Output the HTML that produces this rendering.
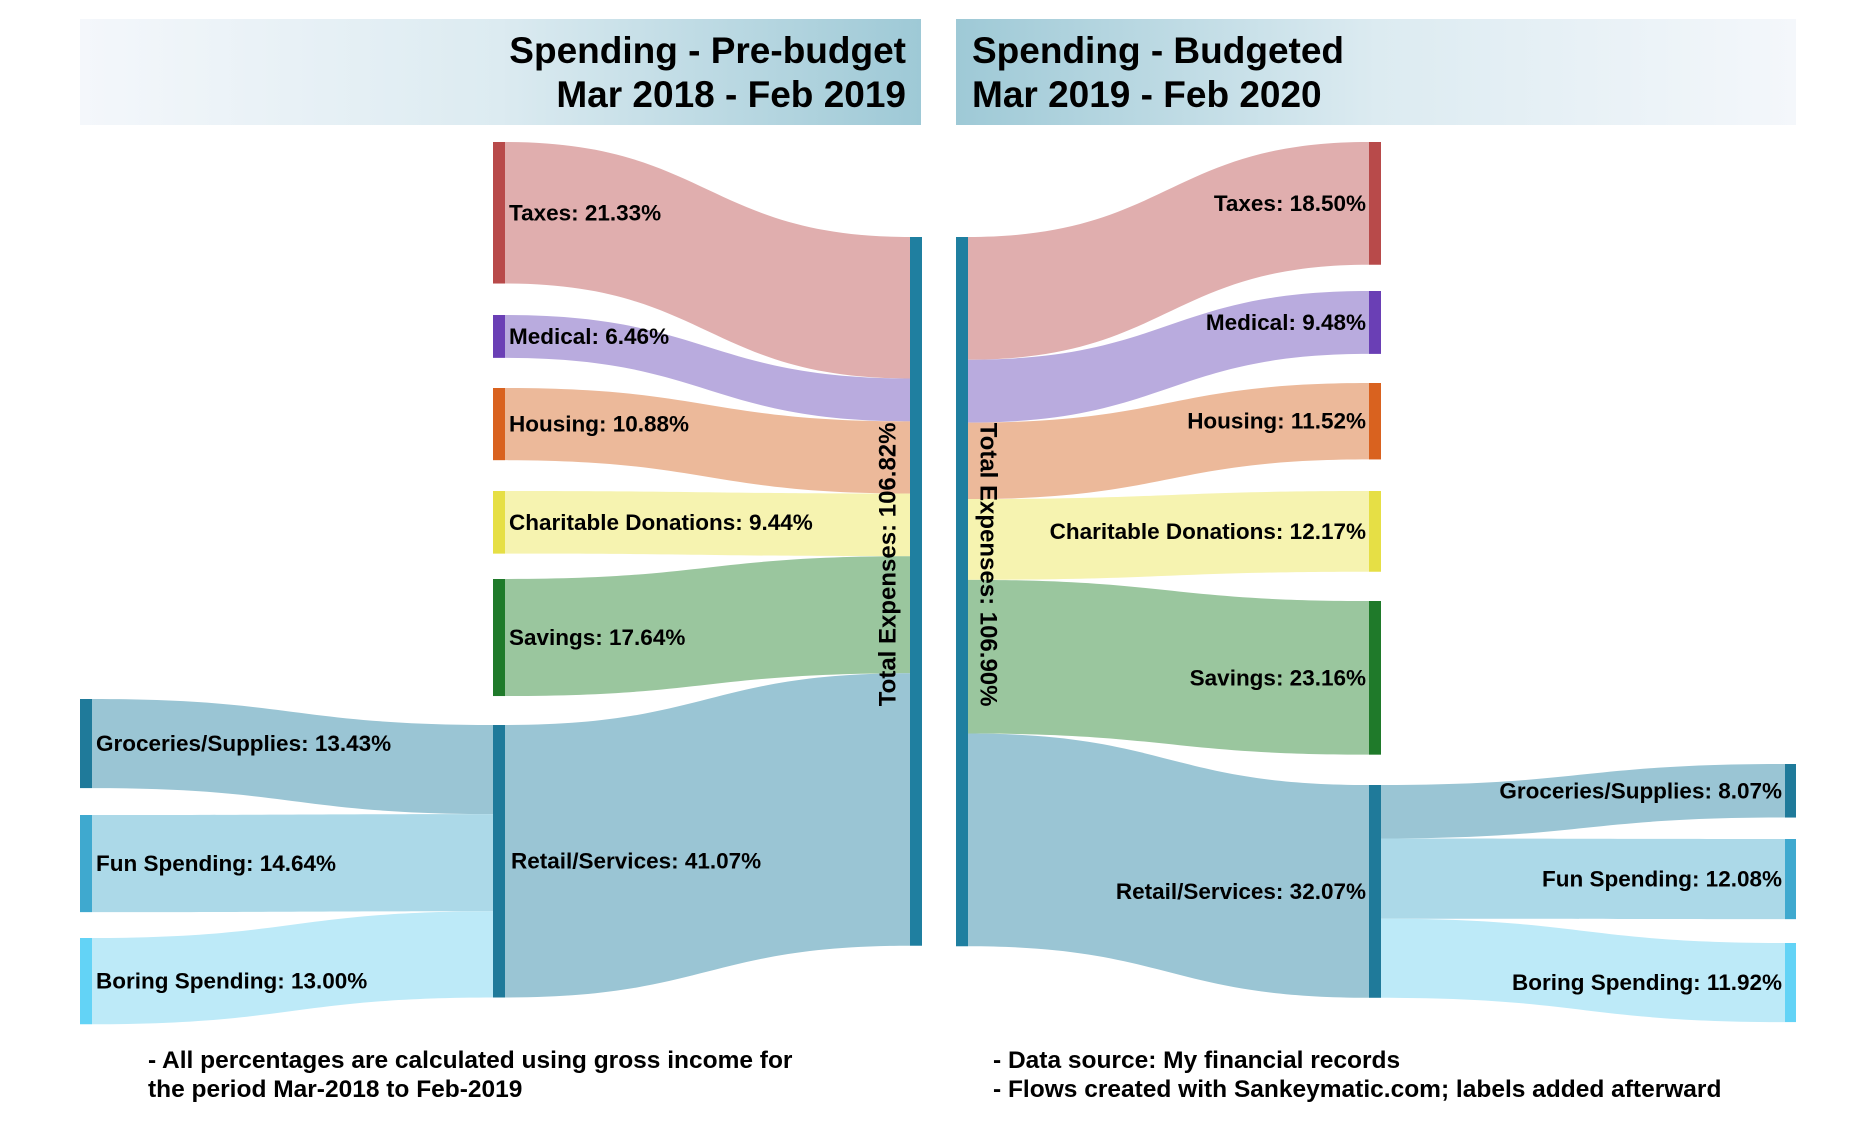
<!DOCTYPE html>
<html><head><meta charset="utf-8">
<style>
html,body{margin:0;padding:0;background:#fff;}
svg{display:block;font-family:"Liberation Sans",Arial,sans-serif;font-weight:bold;}
</style></head>
<body>
<svg id="chart" width="1875" height="1125" viewBox="0 0 1875 1125" xmlns="http://www.w3.org/2000/svg">
<defs>
<linearGradient id="gL" x1="0" x2="1" y1="0" y2="0"><stop offset="0" stop-color="#f4f7fb"/><stop offset="0.5" stop-color="#dcebf1"/><stop offset="1" stop-color="#9ec9d6"/></linearGradient>
<linearGradient id="gR" x1="0" x2="1" y1="0" y2="0"><stop offset="0" stop-color="#9ec9d6"/><stop offset="0.5" stop-color="#dcebf1"/><stop offset="1" stop-color="#f4f7fb"/></linearGradient>
</defs>
<rect x="80" y="19" width="841" height="106" fill="url(#gL)"/>
<rect x="956" y="19" width="840" height="106" fill="url(#gR)"/>
<text x="906" y="63" font-size="37" text-anchor="end" fill="#000">Spending - Pre-budget</text>
<text x="906" y="107" font-size="37" text-anchor="end" fill="#000">Mar 2018 - Feb 2019</text>
<text x="972" y="63" font-size="37" fill="#000">Spending - Budgeted</text>
<text x="972" y="107" font-size="37" fill="#000">Mar 2019 - Feb 2020</text>
<g id="flows"></g>
<g id="nodes"></g>
<g id="labels"></g>
<text x="148" y="1068" font-size="24.5">- All percentages are calculated using gross income for</text>
<text x="148" y="1097" font-size="24.5">the period Mar-2018 to Feb-2019</text>
<text x="993" y="1068" font-size="24.5">- Data source: My financial records</text>
<text x="993" y="1097" font-size="24.5">- Flows created with Sankeymatic.com; labels added afterward</text>
</svg>
<script>
// Data
const expenseNames = ["Taxes","Medical","Housing","Charitable Donations","Savings","Retail/Services"];
const preValues = [21.33, 6.46, 10.88, 9.44, 17.64, 41.07];
const budValues = [18.50, 9.48, 11.52, 12.17, 23.16, 32.07];
const retailNames = ["Groceries/Supplies","Fun Spending","Boring Spending"];
const preRetail = [13.43, 14.64, 13.00];
const budRetail = [8.07, 12.08, 11.92];
const preTotal = 106.82;
const budTotal = 106.90;

// Styles / layout
const nodeCol = ["#b84a4a","#6a3fb5","#d9621f","#e6df45","#1f7a2a","#1f7a9a"];
const flowCol = ["#e0aeae","#b9abde","#ecb99a","#f6f3b0","#9ac69e","#9ac5d4"];
const subNodeCol = ["#1f7a9a","#3fa9cf","#63d3f6"];
const subFlowCol = ["#9ac5d4","#acd9e8","#bdeaf8"];
const K = 709/106.86;
const totalTop = 237;
const preTops = [142,315,388,491,579,725];
const budTops = [142,291,383,491,601,785];
const preSubTops = [699,815,938];
const budSubTops = [764,839,943];
const NS = "http://www.w3.org/2000/svg";
const gF = document.getElementById('flows'), gN = document.getElementById('nodes'), gT = document.getElementById('labels');

function band(x0,a0,b0,x1,a1,b1){
  const xm=(x0+x1)/2;
  return `M${x0},${a0} C${xm},${a0} ${xm},${a1} ${x1},${a1} L${x1},${b1} C${xm},${b1} ${xm},${b0} ${x0},${b0} Z`;
}
function flow(d,fill,name){
  const p=document.createElementNS(NS,'path');
  p.setAttribute('d',d);p.setAttribute('fill',fill);
  
  
  gF.appendChild(p);
}
function node(x,y,w,h,fill,name){
  const r=document.createElementNS(NS,'rect');
  r.setAttribute('x',x);r.setAttribute('y',y);r.setAttribute('width',w);r.setAttribute('height',h);r.setAttribute('fill',fill);
  
  
  gN.appendChild(r);
}
function label(x,y,txt,anchor,name,rot,fs){
  const t=document.createElementNS(NS,'text');
  t.setAttribute('x',x);t.setAttribute('y',y);t.setAttribute('font-size',fs||'22.5');
  t.setAttribute('text-anchor',anchor);t.setAttribute('dominant-baseline','central');
  if(rot) t.setAttribute('transform',`rotate(${rot} ${x} ${y})`);
  t.textContent=txt;
  
  
  gT.appendChild(t);
}
function slug(s){return s.toLowerCase().replace(/[^a-z]+/g,'-').replace(/-$/,'');}

// LEFT (pre-budget)
(function(){
  const tx=910, nx=493, nw=12;
  node(tx,totalTop,12,preTotal*K,"#1f7fa0","pre-total-node");
  label(888,totalTop+preTotal*K/2-27,"Total Expenses: "+preTotal.toFixed(2)+"%","middle","pre-total-label",-90,"24");
  let cy=totalTop;
  preValues.forEach((v,i)=>{
    const h=v*K, y=preTops[i];
    flow(band(nx+nw,y,y+h,tx,cy,cy+h),flowCol[i],"pre-flow-"+slug(expenseNames[i]));
    node(nx,y,nw,h,nodeCol[i],"pre-node-"+slug(expenseNames[i]));
    label(nx+nw+4+(i==5?2:0),y+h/2,expenseNames[i]+": "+v.toFixed(2)+"%","start","pre-label-"+slug(expenseNames[i]));
    cy+=h;
  });
  const rx=nx+2; let ry=preTops[5];
  preRetail.forEach((v,i)=>{
    const h=v*K, y=preSubTops[i];
    flow(band(92,y,y+h,rx,ry,ry+h),subFlowCol[i],"pre-flow-"+slug(retailNames[i]));
    node(80,y,12,h,subNodeCol[i],"pre-node-"+slug(retailNames[i]));
    label(96,y+h/2,retailNames[i]+": "+v.toFixed(2)+"%","start","pre-label-"+slug(retailNames[i]));
    ry+=h;
  });
})();

// RIGHT (budgeted)
(function(){
  const tx=956, nx=1369, nw=12;
  node(tx,totalTop,12,budTotal*K,"#1f7fa0","bud-total-node");
  label(988,totalTop+budTotal*K/2-27,"Total Expenses: "+budTotal.toFixed(2)+"%","middle","bud-total-label",90,"24");
  let cy=totalTop;
  budValues.forEach((v,i)=>{
    const h=v*K, y=budTops[i];
    flow(band(tx+12,cy,cy+h,nx,y,y+h),flowCol[i],"bud-flow-"+slug(expenseNames[i]));
    node(nx,y,nw,h,nodeCol[i],"bud-node-"+slug(expenseNames[i]));
    label(nx-3,y+h/2,expenseNames[i]+": "+v.toFixed(2)+"%","end","bud-label-"+slug(expenseNames[i]));
    cy+=h;
  });
  let ry=budTops[5];
  budRetail.forEach((v,i)=>{
    const h=v*K, y=budSubTops[i];
    flow(band(nx+nw,ry,ry+h,1785,y,y+h),subFlowCol[i],"bud-flow-"+slug(retailNames[i]));
    node(1785,y,11,h,subNodeCol[i],"bud-node-"+slug(retailNames[i]));
    label(1782,y+h/2,retailNames[i]+": "+v.toFixed(2)+"%","end","bud-label-"+slug(retailNames[i]));
    ry+=h;
  });
})();
</script>
</body></html>
